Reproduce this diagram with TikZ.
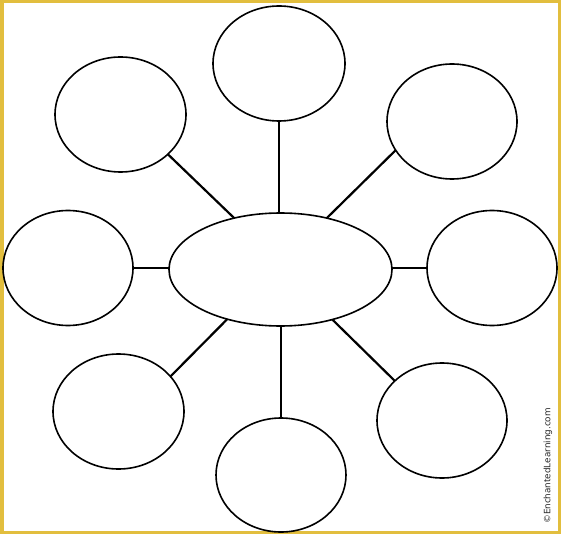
\documentclass[tikz,border=0pt]{standalone}
\usetikzlibrary{shapes.geometric}
\usepackage{fontspec}
\newfontfamily\credfont{DejaVu Sans}
\definecolor{frameyellow}{RGB}{226,190,62}
\begin{document}
\begin{tikzpicture}[x=1pt,y=-1pt,
  bubble/.style={ellipse,draw=black,line width=1.6pt,inner sep=0pt,outer sep=0pt,
    minimum width=130pt,minimum height=115pt},
  spoke/.style={draw=black,line width=2.2pt}]
\useasboundingbox (0,0) rectangle (561,534);
\fill[white] (0,0) rectangle (561,534);
\draw[frameyellow,line width=3.5pt] (1.75,1.75) rectangle (559.25,532.25);
\node[bubble,minimum width=132pt] (top) at (279,63.5) {};
\node[bubble,minimum width=131pt] (tl) at (120.5,114.5) {};
\node[bubble] (tr) at (452,121.5) {};
\node[bubble] (l) at (68,268) {};
\node[bubble,minimum width=223pt,minimum height=113pt] (c) at (280.5,269.5) {};
\node[bubble] (r) at (492,268) {};
\node[bubble,minimum width=131pt] (bl) at (118.5,411.5) {};
\node[bubble,minimum height=114pt] (b) at (281,475) {};
\node[bubble] (br) at (442,420.5) {};
\draw[spoke] (top.south) -- (top.south |- c.north);
\draw[spoke] (b.north) -- (b.north |- c.south);
\draw[spoke] (l.0) -- (l.0 -| c.west);
\draw[spoke] (r.180) -- (r.180 -| c.east);
\draw[spoke] (tl.-40.6) -- (c.132.7);
\draw[spoke] (tr.207.4) -- (c.48);
\draw[spoke] (bl.34.8) -- (c.223);
\draw[spoke] (br.140.5) -- (c.-44);
\node[rotate=90,inner sep=0pt,text=black!85,font=\credfont\fontsize{8.8}{10}\selectfont] (credit) at (548,466) {©EnchantedLearning.com};
\end{tikzpicture}
\end{document}
